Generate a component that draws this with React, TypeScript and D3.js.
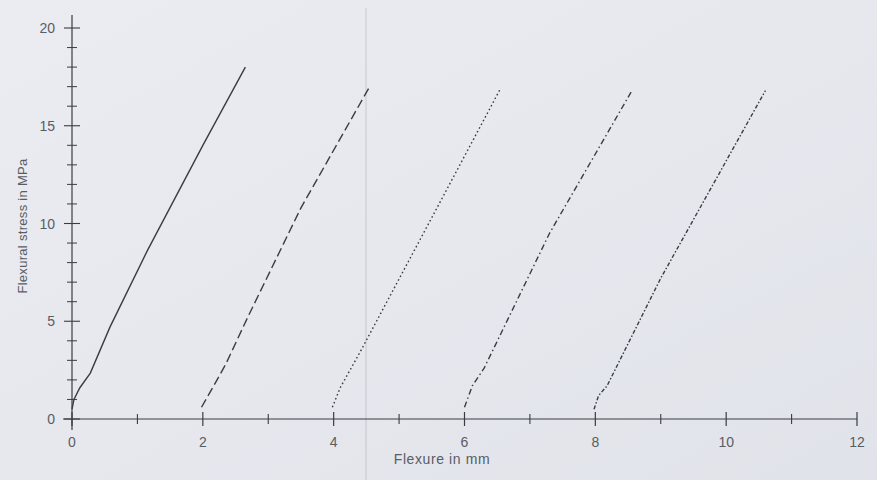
import React from "react";
import * as d3 from "d3";

const xTicksMajor = [0, 2, 4, 6, 8, 10, 12];
const xTicksMinor = [1, 3, 5, 7, 9, 11];
const yTicksMajor = [0, 5, 10, 15, 20];
const yTicksMinor = [1, 2, 3, 4, 6, 7, 8, 9, 11, 12, 13, 14, 16, 17, 18, 19];

const s1x = [0, 0.03, 0.12, 0.28, 0.58, 1.15, 2.0, 2.65];
const s1y = [0.5, 1.0, 1.6, 2.35, 4.7, 8.6, 14.0, 18.0];
const s2x = [1.98, 2.15, 2.35, 2.7, 3.5, 4.55];
const s2y = [0.6, 1.6, 2.8, 5.3, 10.8, 17.0];
const s3x = [3.98, 4.1, 4.4, 5.5, 6.55];
const s3y = [0.6, 1.6, 3.4, 10.3, 16.9];
const s4x = [6.0, 6.12, 6.3, 7.3, 8.56];
const s4y = [0.6, 1.7, 2.6, 9.5, 16.8];
const s5x = [7.98, 8.05, 8.18, 9.0, 10.6];
const s5y = [0.5, 1.2, 1.7, 7.2, 16.8];

const series = [
  { xs: s1x, ys: s1y, dash: "none" },
  { xs: s2x, ys: s2y, dash: "9,4" },
  { xs: s3x, ys: s3y, dash: "1.6,2.6" },
  { xs: s4x, ys: s4y, dash: "6,3,1.5,3" },
  { xs: s5x, ys: s5y, dash: "4,2,1.5,2" },
];

export default function App() {
  const W = 877, H = 480;
  const x = d3.scaleLinear().domain([0, 12]).range([72, 857]);
  const y = d3.scaleLinear().domain([0, 20]).range([419, 28]);
  const line = d3.line<[number, number]>().x(d => x(d[0])).y(d => y(d[1]));
  const ink = "#3a3c44";
  const txt = "#5a5c64";
  const font = "Liberation Sans, Arial, sans-serif";
  return (
    <svg width={W} height={H} style={{ position: "absolute", left: 0, top: 0, display: "block" }}>
      <defs>
        <linearGradient id="bg" x1="0" y1="0" x2="1" y2="1">
          <stop offset="0" stopColor="#eaecf1" />
          <stop offset="0.5" stopColor="#e6e8ee" />
          <stop offset="1" stopColor="#e1e3ea" />
        </linearGradient>
      </defs>
      <rect x={0} y={0} width={W} height={H} fill="url(#bg)" />
      {/* faint scan fold line */}
      <line x1={366} x2={366} y1={8} y2={H} stroke="#9a9ca4" strokeWidth={0.7} opacity={0.6} />
      {/* axes */}
      <line x1={63} x2={x(12)} y1={y(0)} y2={y(0)} stroke={ink} strokeWidth={1.2} />
      <line x1={x(0)} x2={x(0)} y1={15} y2={430} stroke={ink} strokeWidth={1.2} />
      {xTicksMajor.map(t => (
        <g key={"xM" + t}>
          <line x1={x(t)} x2={x(t)} y1={y(0) - 7} y2={y(0) + 7} stroke={ink} strokeWidth={1.2} />
          <text x={x(t)} y={447} textAnchor="middle" fontSize={14} fill={txt} fontFamily={font}>{t}</text>
        </g>
      ))}
      {xTicksMinor.map(t => (
        <line key={"xm" + t} x1={x(t)} x2={x(t)} y1={y(0) - 5} y2={y(0) + 5} stroke={ink} strokeWidth={1.1} />
      ))}
      {yTicksMajor.map(t => (
        <g key={"yM" + t}>
          <line x1={x(0) - 8} x2={x(0) + 8} y1={y(t)} y2={y(t)} stroke={ink} strokeWidth={1.1} />
          <text x={55} y={y(t) + 5} textAnchor="end" fontSize={14} fill={txt} fontFamily={font}>{t}</text>
        </g>
      ))}
      {yTicksMinor.map(t => (
        <line key={"ym" + t} x1={x(0) - 5} x2={x(0) + 5} y1={y(t)} y2={y(t)} stroke={ink} strokeWidth={1} />
      ))}
      <text x={442} y={464} textAnchor="middle" fontSize={14} letterSpacing={0.6} fill={txt} fontFamily={font}>Flexure in mm</text>
      <text transform="translate(27,226) rotate(-90)" textAnchor="middle" fontSize={13} letterSpacing={0.3} fill={txt} fontFamily={font}>Flexural stress in MPa</text>
      {series.map((s, i) => (
        <path
          key={i}
          d={line(s.xs.map((v, j) => [v, s.ys[j]] as [number, number])) || ""}
          fill="none"
          stroke={ink}
          strokeWidth={1.4}
          strokeDasharray={s.dash}
        />
      ))}
    </svg>
  );
}
